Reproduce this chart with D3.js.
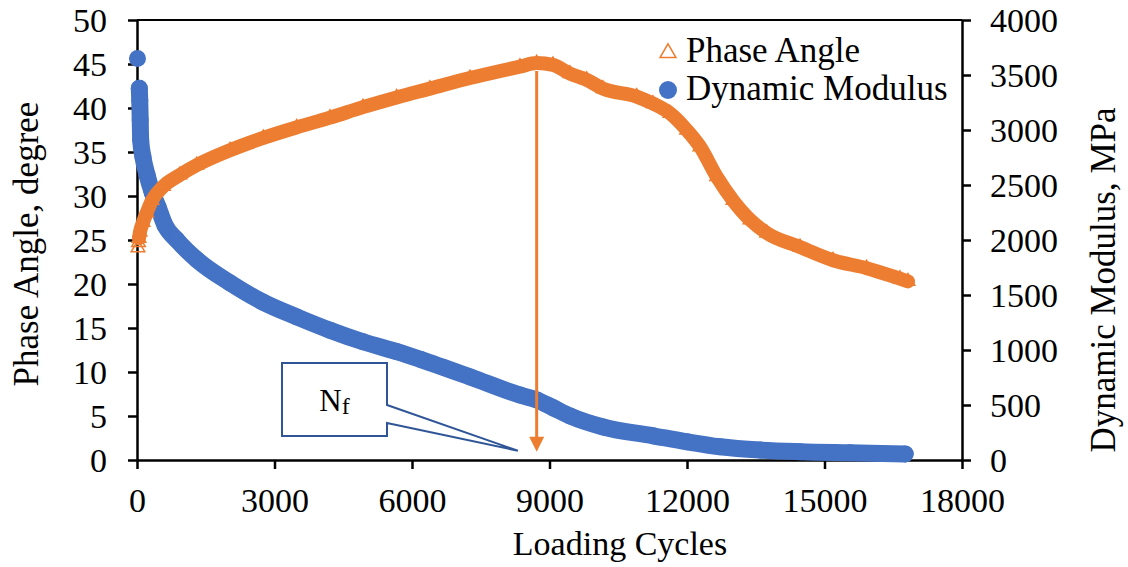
<!DOCTYPE html>
<html>
<head>
<meta charset="utf-8">
<script src="https://cdn.jsdelivr.net/npm/d3@7"></script>
<style>
  html, body { margin: 0; padding: 0; background: #fff; }
  svg { display: block; }
  text { font-family: "Liberation Serif", "Times New Roman", serif; fill: #000; }
</style>
</head>
<body>
<svg id="chart" width="1128" height="567"></svg>
<script>
// Loading cycles and phase angle (degree), left axis
const phaseCycles = [22, 33, 44, 65, 131, 212, 327, 574, 938, 1302, 2029, 2756, 3484, 4211, 4931, 5666, 6393, 7265, 8356, 8720, 9076, 9447, 9811, 10167, 10902, 11258, 11629, 11993, 12284, 12648, 13004, 13375, 13739, 14465, 15185, 15920, 16647, 16822];
const phaseAngle  = [24.1, 24.7, 25.2, 25.9, 27.0, 28.1, 29.5, 31.1, 32.4, 33.5, 35.2, 36.6, 37.8, 38.9, 40.1, 41.2, 42.2, 43.4, 44.7, 45.1, 44.9, 43.9, 43.2, 42.2, 41.3, 40.5, 39.4, 37.5, 35.6, 32.2, 29.5, 27.3, 25.8, 24.2, 22.7, 21.8, 20.6, 20.3];

// Loading cycles and dynamic modulus (MPa), right axis
const modulusCycles = [10, 50, 60, 70, 80, 130, 220, 330, 460, 610, 870, 1310, 2030, 2750, 3490, 4210, 4930, 5670, 6180, 7270, 8360, 8730, 9080, 9450, 10170, 11260, 12000, 12720, 13590, 14470, 15560, 16760];
const dynamicModulus = [3650, 3380, 3270, 3090, 2910, 2755, 2590, 2435, 2300, 2135, 2000, 1820, 1610, 1435, 1300, 1180, 1075, 985, 915, 755, 590, 545, 475, 400, 300, 220, 165, 120, 90, 75, 65, 55];

// Tick labels
const xTicks = [0, 3000, 6000, 9000, 12000, 15000, 18000];
const leftTicks = [0, 5, 10, 15, 20, 25, 30, 35, 40, 45, 50];
const rightTicks = [0, 500, 1000, 1500, 2000, 2500, 3000, 3500, 4000];

// Failure point annotation (N_f) at the phase-angle peak
const failureCycle = 8720;
const failureAngle = 45.1;

const ORANGE = "#ED7D31", BLUE = "#4472C4", CALLOUT = "#2F5597";
const FS = 34;

const svg = d3.select("#chart");
const L = 137, R = 962, T = 20, B = 460;

const x  = d3.scaleLinear().domain([0, 18000]).range([L, R]);
const yL = d3.scaleLinear().domain([0, 50]).range([B, T]);
const yR = d3.scaleLinear().domain([0, 4000]).range([B, T]);

const phase = phaseCycles.map((c, i) => ({ c, v: phaseAngle[i] }));
const modulus = modulusCycles.map((c, i) => ({ c, v: dynamicModulus[i] }));

// Plot frame top line
svg.append("line").attr("x1", L).attr("x2", R).attr("y1", T).attr("y2", T)
  .attr("stroke", "#000").attr("stroke-width", 2);

// Axes
function styleAxis(g) {
  g.selectAll("path.domain").attr("stroke", "#000").attr("stroke-width", 2.5);
  g.selectAll(".tick line").attr("stroke", "#000").attr("stroke-width", 2.5);
  g.selectAll(".tick text").style("font-size", FS + "px").style("font-family", '"Liberation Serif", "Times New Roman", serif').attr("fill", "#000");
}

const gx = svg.append("g").attr("transform", `translate(0,${B})`)
  .call(d3.axisBottom(x).tickValues(xTicks).tickFormat(d3.format("d")).tickSize(9).tickSizeOuter(0));
styleAxis(gx);
gx.selectAll(".tick text").attr("y", 52).attr("dy", 0);

const gl = svg.append("g").attr("transform", `translate(${L},0)`)
  .call(d3.axisLeft(yL).tickValues(leftTicks).tickFormat(d3.format("d")).tickSize(9).tickSizeOuter(0));
styleAxis(gl);
gl.selectAll(".tick text").attr("x", -30).attr("dy", "0.34em");

const gr = svg.append("g").attr("transform", `translate(${R},0)`)
  .call(d3.axisRight(yR).tickValues(rightTicks).tickFormat(d3.format("d")).tickSize(9).tickSizeOuter(0));
styleAxis(gr);
gr.selectAll(".tick text").attr("x", 28).attr("dy", "0.34em");

// Axis titles
svg.append("text").attr("x", 620).attr("y", 555)
  .attr("text-anchor", "middle").style("font-size", FS + "px").text("Loading Cycles");
svg.append("text").attr("transform", "translate(38,244) rotate(-90)")
  .attr("text-anchor", "middle").style("font-size", "35px").text("Phase Angle, degree");
svg.append("text").attr("transform", "translate(1115,280) rotate(-90)")
  .attr("text-anchor", "middle").style("font-size", "35px").text("Dynamic Modulus, MPa");

const curve = d3.curveMonotoneX;

// Dynamic modulus series: the opening reading stands apart, the rest form a dense band
svg.append("path")
  .attr("d", d3.line().x(d => x(d.c)).y(d => yR(d.v)).curve(curve)(modulus.slice(1)))
  .attr("fill", "none").attr("stroke", BLUE).attr("stroke-width", 17)
  .attr("stroke-linecap", "round").attr("stroke-linejoin", "round");
svg.append("g").selectAll("circle").data(modulus).join("circle")
  .attr("cx", d => x(d.c)).attr("cy", d => yR(d.v)).attr("r", 8.5).attr("fill", BLUE);

// Phase angle series: dense hollow triangles
svg.append("path")
  .attr("d", d3.line().x(d => x(d.c)).y(d => yL(d.v)).curve(curve)(phase.slice(2)))
  .attr("fill", "none").attr("stroke", ORANGE).attr("stroke-width", 14)
  .attr("stroke-linecap", "round").attr("stroke-linejoin", "round");
const tri = d3.symbol().type(d3.symbolTriangle).size(80);
svg.append("g").selectAll("path").data(phase).join("path")
  .attr("d", tri).attr("transform", d => `translate(${x(d.c)},${yL(d.v)})`)
  .attr("fill", "none").attr("stroke", ORANGE).attr("stroke-width", 1.5);

// Arrow from the phase-angle peak down to the cycle axis
const ax = x(failureCycle);
const tipY = yL(0.95);
svg.append("line").attr("x1", ax).attr("x2", ax).attr("y1", yL(failureAngle) + 8).attr("y2", tipY - 12)
  .attr("stroke", ORANGE).attr("stroke-width", 3);
svg.append("path").attr("d", `M${ax},${tipY} L${ax - 7.5},${tipY - 15} L${ax + 7.5},${tipY - 15} Z`)
  .attr("fill", ORANGE);

// N_f callout
const tipX = x(8310), tipCY = yL(1.05);
const bx0 = 282, bx1 = 387, by0 = 363, by1 = 436;
svg.append("path")
  .attr("d", `M${bx0},${by0} L${bx1},${by0} L${bx1},405 L${tipX},${tipCY} L${bx1},423 L${bx1},${by1} L${bx0},${by1} Z`)
  .attr("fill", "#fff").attr("stroke", CALLOUT).attr("stroke-width", 2).attr("stroke-linejoin", "miter");
const nf = svg.append("text").attr("x", (bx0 + bx1) / 2).attr("y", 411)
  .attr("text-anchor", "middle").style("font-size", "31px");
nf.append("tspan").text("N");
nf.append("tspan").attr("dy", 3).style("font-size", "24px").text("f");

// Legend
const lg = svg.append("g");
lg.append("path").attr("d", d3.symbol().type(d3.symbolTriangle).size(110)())
  .attr("transform", "translate(668,53)").attr("fill", "none").attr("stroke", ORANGE).attr("stroke-width", 1.5);
lg.append("text").attr("x", 686).attr("y", 62).style("font-size", "35px").text("Phase Angle");
lg.append("circle").attr("cx", 668).attr("cy", 90).attr("r", 9).attr("fill", BLUE);
lg.append("text").attr("x", 686).attr("y", 100).style("font-size", "35px").text("Dynamic Modulus");
</script>
</body>
</html>
